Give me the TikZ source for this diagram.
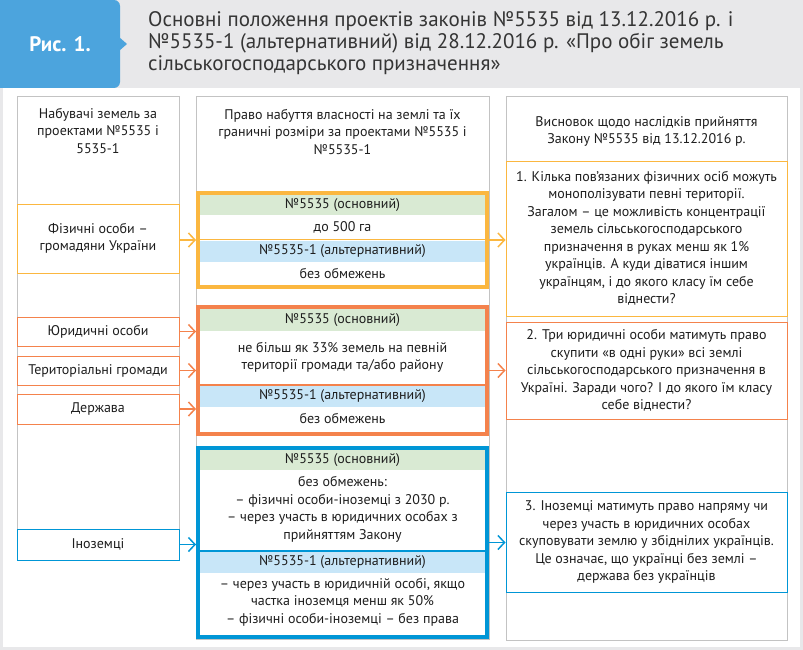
\documentclass[tikz,border=0pt]{standalone}
\usepackage{fontspec}
\setmainfont{PT Sans}
\usetikzlibrary{arrows.meta}
\definecolor{ycol}{RGB}{251,183,64}
\definecolor{ocol}{RGB}{244,130,76}
\definecolor{bcol}{RGB}{0,150,214}
\definecolor{grnband}{RGB}{217,234,211}
\definecolor{bluband}{RGB}{200,230,248}
\definecolor{colgray}{RGB}{195,195,195}
\definecolor{hdrgray}{RGB}{232,232,234}
\definecolor{titleblue}{RGB}{76,164,221}
\definecolor{txt}{RGB}{30,30,30}
\newcommand{\bodyfont}{\fontsize{14}{17.5}\selectfont}
\begin{document}
\begin{tikzpicture}[x=1pt,y=-1pt,
  every node/.style={text=txt},
  colbox/.style={draw=colgray, line width=1pt, fill=white, inner sep=0pt},
  hdrtext/.style={align=center, font=\bodyfont, inner sep=0pt},
  lbox/.style={draw, fill=white, line width=1pt, minimum width=162pt, inner sep=0pt, align=center, font=\bodyfont},
  rbox/.style={draw, fill=white, line width=1pt, minimum width=281pt, inner sep=0pt, align=center, font=\bodyfont},
  bigbox/.style={draw, line width=4pt, minimum width=289pt, inner sep=0pt},
  band/.style={minimum width=285pt, inner sep=0pt, font=\bodyfont},
  gband/.style={band, fill=grnband},
  bband/.style={band, fill=bluband},
  btext/.style={align=center, font=\bodyfont, inner sep=0pt},
  arr/.style={-{Straight Barb[length=6.5pt,width=14pt]}, line width=1.5pt}
]
\useasboundingbox (0,0) rectangle (803,650);
\fill[hdrgray] (0,0) rectangle (803,650);
\fill[white] (3,88) rectangle (800,647);

% title block
\begin{scope}
\clip (0,0) rectangle (803,650);
\fill[titleblue, rounded corners=6pt] (-12,0) rectangle (120,88);
\end{scope}
\fill[titleblue] (119,37) -- (127,44) -- (119,51) -- cycle;
\node[text=white, font=\fontsize{21}{24}\selectfont\bfseries] (ris) at (60,44) {Рис. 1.};
\node[anchor=west, align=left, inner sep=0pt, font=\fontsize{21}{22}\selectfont, text=txt!90] (title) at (148,43)
 {Основні положення проектів законів №5535 від 13.12.2016 р. і\\
  №5535-1 (альтернативний) від 28.12.2016 р. «Про обіг земель\\
  сільськогосподарського призначення»};

% columns
\node[colbox, minimum width=162pt, minimum height=463pt] (c1) at (98,328.5) {};
\node[colbox, minimum width=293pt, minimum height=542pt] (c2) at (342.5,368) {};
\node[colbox, minimum width=281pt, minimum height=543pt] (c3) at (646.5,368.5) {};
\node[hdrtext] (c1t) at (98,131) {Набувачі земель за\\проектами №5535 і\\5535-1};
\node[hdrtext] (c2t) at (342.5,132) {Право набуття власності на землі та їх\\граничні розміри за проектами №5535 і\\№5535-1};
\node[hdrtext] (c3t) at (646.5,131.5) {Висновок щодо наслідків прийняття\\Закону №5535 від 13.12.2016 р.};

% left boxes
\node[lbox, draw=ycol, minimum height=69pt] (f1) at (98,238.5) {Фізичні особи –\\громадяни України};
\node[lbox, draw=ocol, minimum height=29pt] (j1) at (98,331.5) {Юридичні особи};
\node[lbox, draw=ocol, minimum height=29pt] (t1) at (98,370.5) {Територіальні громади};
\node[lbox, draw=ocol, minimum height=30pt] (d1) at (98,409) {Держава};
\node[lbox, draw=bcol, minimum height=31pt] (i1) at (98,544.5) {Іноземці};

% yellow group
\node[gband, minimum height=20pt] (y1h) at (342.5,205) {№5535 (основний)};
\node[btext] (y1b) at (342.5,227) {до 500 га};
\draw[ycol, line width=1.2pt] (200,239.5) -- (485,239.5);
\node[bband, minimum height=21pt] (y2h) at (342.5,251.5) {№5535-1 (альтернативний)};
\node[btext] (y2b) at (342.5,273.5) {без обмежень};
\node[bigbox, draw=ycol, minimum height=94pt] (yb) at (342.5,240) {};

% orange group
\node[gband, minimum height=22pt] (o1h) at (342.5,320) {№5535 (основний)};
\node[btext] (o1b) at (342.5,357.5) {не більш як 33\% земель на певній\\території громади та/або району};
\draw[ocol, line width=1.2pt] (200,385) -- (485,385);
\node[bband, minimum height=21pt] (o2h) at (342.5,396.5) {№5535-1 (альтернативний)};
\node[btext] (o2b) at (342.5,419) {без обмежень};
\node[bigbox, draw=ocol, minimum height=127pt] (ob) at (342.5,370.5) {};

% blue group
\node[gband, minimum height=20pt] (b1h) at (342.5,460) {№5535 (основний)};
\node[btext] (b1b) at (342.5,509.5) {без обмежень:\\– фізичні особи-іноземці з 2030 р.\\– через участь в юридичних особах з\\прийняттям Закону};
\draw[bcol, line width=1.2pt] (200,551) -- (485,551);
\node[bband, minimum height=21pt] (b2h) at (342.5,562.5) {№5535-1 (альтернативний)};
\node[btext] (b2b) at (342.5,602) {– через участь в юридичній особі, якщо\\частка іноземця менш як 50\%\\– фізичні особи-іноземці – без права};
\node[bigbox, draw=bcol, minimum height=189pt] (bb) at (342.5,542.5) {};

% right boxes
\node[rbox, draw=ycol, minimum height=155pt] (r1) at (646.5,238.5)
 {1. Кілька пов’язаних фізичних осіб можуть\\монополізувати певні території.\\Загалом – це можливість концентрації\\земель сільськогосподарського\\призначення в руках менш як 1\%\\українців. А куди діватися іншим\\українцям, і до якого класу їм себе\\віднести?};
\node[rbox, draw=ocol, minimum height=97pt] (r2) at (646.5,370.5)
 {2. Три юридичні особи матимуть право\\скупити «в одні руки» всі землі\\сільськогосподарського призначення в\\Україні. Заради чого? І до якого їм класу\\себе віднести?};
\node[rbox, draw=bcol, minimum height=100pt] (r3) at (646.5,542)
 {3. Іноземці матимуть право напряму чи\\через участь в юридичних особах\\скуповувати землю у збіднілих українців.\\Це означає, що українці без землі –\\держава без українців};

% arrows
\draw[arr, ycol] (f1.east |- 0,240) -- (yb.west |- 0,240);
\draw[arr, ycol] (yb.east) -- (yb.east -| r1.west);
\draw[arr, ocol] (j1.east) -- (j1.east -| ob.west);
\draw[arr, ocol] (t1.east) -- (t1.east -| ob.west);
\draw[arr, ocol] (d1.east) -- (d1.east -| ob.west);
\draw[arr, ocol] (ob.east) -- (ob.east -| r2.west);
\draw[arr, bcol] (i1.east) -- (i1.east -| bb.west);
\draw[arr, bcol] (bb.east) -- (bb.east -| r3.west);
\end{tikzpicture}
\end{document}
